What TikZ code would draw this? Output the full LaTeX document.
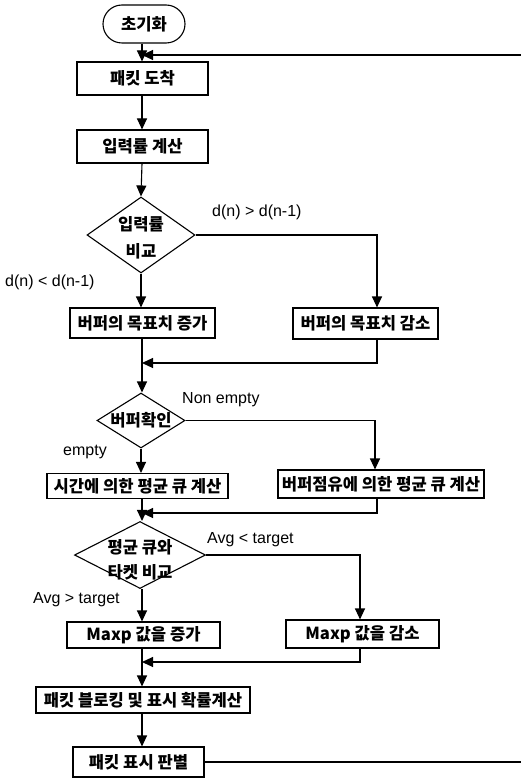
\documentclass[tikz,border=0pt]{standalone}
\usepackage{fontspec}
\setmainfont{Noto Sans CJK KR}
\newfontfamily\lat{Liberation Sans}
\usetikzlibrary{arrows.meta,shapes.geometric}
\begin{document}
\begin{tikzpicture}[x=1pt,y=-1pt,
  box/.style={draw, line width=1.1pt, inner sep=0pt, font=\fontsize{16.6}{19}\selectfont\bfseries},
  dia/.style={draw, diamond, line width=1.1pt, inner sep=0pt},
  dtxt/.style={inner sep=0pt, align=center, font=\fontsize{16.6}{25}\selectfont\bfseries},
  lbl/.style={anchor=west, inner sep=0pt, font=\lat\fontsize{16}{18}\selectfont},
  arr/.style={-{Triangle[length=11pt,width=10pt]}, line width=1.1pt},
  ln/.style={line width=1.1pt}]
\useasboundingbox[fill=white] (0,0) rectangle (521,778);
% main column and side columns
\coordinate (col) at (142,0);
\coordinate (r1) at (377,0);
\coordinate (r2) at (375,0);
\coordinate (r3) at (360,0);
% nodes
\node[box, rounded corners=19pt, minimum width=82pt, minimum height=38pt] (init) at (144,24) {초기화};
\node[box, minimum width=131pt, minimum height=33pt] (b1) at (142.5,78.5) {패킷 도착};
\node[box, minimum width=131pt, minimum height=33pt] (b2) at (142.5,146.5) {입력률 계산};
\node[dia, minimum width=108pt, minimum height=76pt] (d1) at (141,235) {};
\node[dtxt, font=\fontsize{16.6}{27}\selectfont\bfseries] (d1t) at (141,238) {입력률\\비교};
\node[box, minimum width=145pt, minimum height=30pt] (b3) at (142.5,323) {버퍼의 목표치 증가};
\node[box, minimum width=145pt, minimum height=31pt] (b4) at (365.5,323.5) {버퍼의 목표치 감소};
\node[dia, minimum width=88pt, minimum height=55pt] (d2) at (141,420.5) {};
\node[dtxt] (d2t) at (d2) {버퍼확인};
\node[box, minimum width=181pt, minimum height=25pt] (b5) at (137.5,486) {시간에 의한 평균 큐 계산};
\node[box, minimum width=206pt, minimum height=28pt] (b6) at (381,484) {버퍼점유에 의한 평균 큐 계산};
\node[dia, minimum width=131pt, minimum height=67pt] (d3) at (140,555) {};
\node[dtxt] (d3t) at (140,560) {평균 큐와\\타켓 비교};
\node[box, minimum width=153pt, minimum height=26pt] (b7) at (143.5,635) {Maxp 값을 증가};
\node[box, minimum width=153pt, minimum height=28pt] (b8) at (362.5,634) {Maxp 값을 감소};
\node[box, minimum width=214pt, minimum height=26pt] (b9) at (143,700) {패킷 블로킹 및 표시 확률계산};
\node[box, minimum width=131pt, minimum height=30pt] (b10) at (138.5,762) {패킷 표시 판별};
% labels
\node[lbl] (l1) at (212,212) {d(n) > d(n-1)};
\node[lbl] (l2) at (5,282) {d(n) < d(n-1)};
\node[lbl] (l3) at (182,400) {Non empty};
\node[lbl] (l4) at (63,452) {empty};
\node[lbl] (l5) at (207,540) {Avg < target};
\node[lbl] (l6) at (33,600) {Avg > target};
% junction and edge coordinates
\coordinate (j0) at (142,55);
\coordinate (t0) at (521,55);
\coordinate (j1) at (142,363);
\coordinate (j2) at (142,513);
\coordinate (j3) at (142,662);
\coordinate (t1) at (521,762);
% connectors
\draw[arr] (init.south -| col) -- (b1.north -| col);
\draw[arr] (t0) -- (j0);
\draw[arr] (b1.south -| col) -- (b2.north -| col);
\draw[arr] (b2.south -| col) -- (d1.north);
\draw[arr] (d1.east) -| (b4.north -| r1);
\draw[arr] (d1.south) -- (b3.north -| d1.south);
\draw[arr] (b3.south -| col) -- (d2.north -| col);
\draw[arr] (b4.south -| r1) |- (j1);
\draw[arr] (d2.east) -| (b6.north -| r2);
\draw[arr] (d2.south) -- (b5.north -| d2.south);
\draw[arr] (b5.south -| col) -- (d3.north -| col);
\draw[arr] (b6.south -| r1) |- (j2);
\draw[arr] (d3.east) -| (b8.north -| r3);
\draw[arr] (d3.south -| col) -- (b7.north -| col);
\draw[arr] (b7.south -| col) -- (b9.north -| col);
\draw[arr] (b8.south -| r3) |- (j3);
\draw[arr] (b9.south -| col) -- (b10.north -| col);
\draw[ln] (b10.east) -- (t1);
\end{tikzpicture}
\end{document}
